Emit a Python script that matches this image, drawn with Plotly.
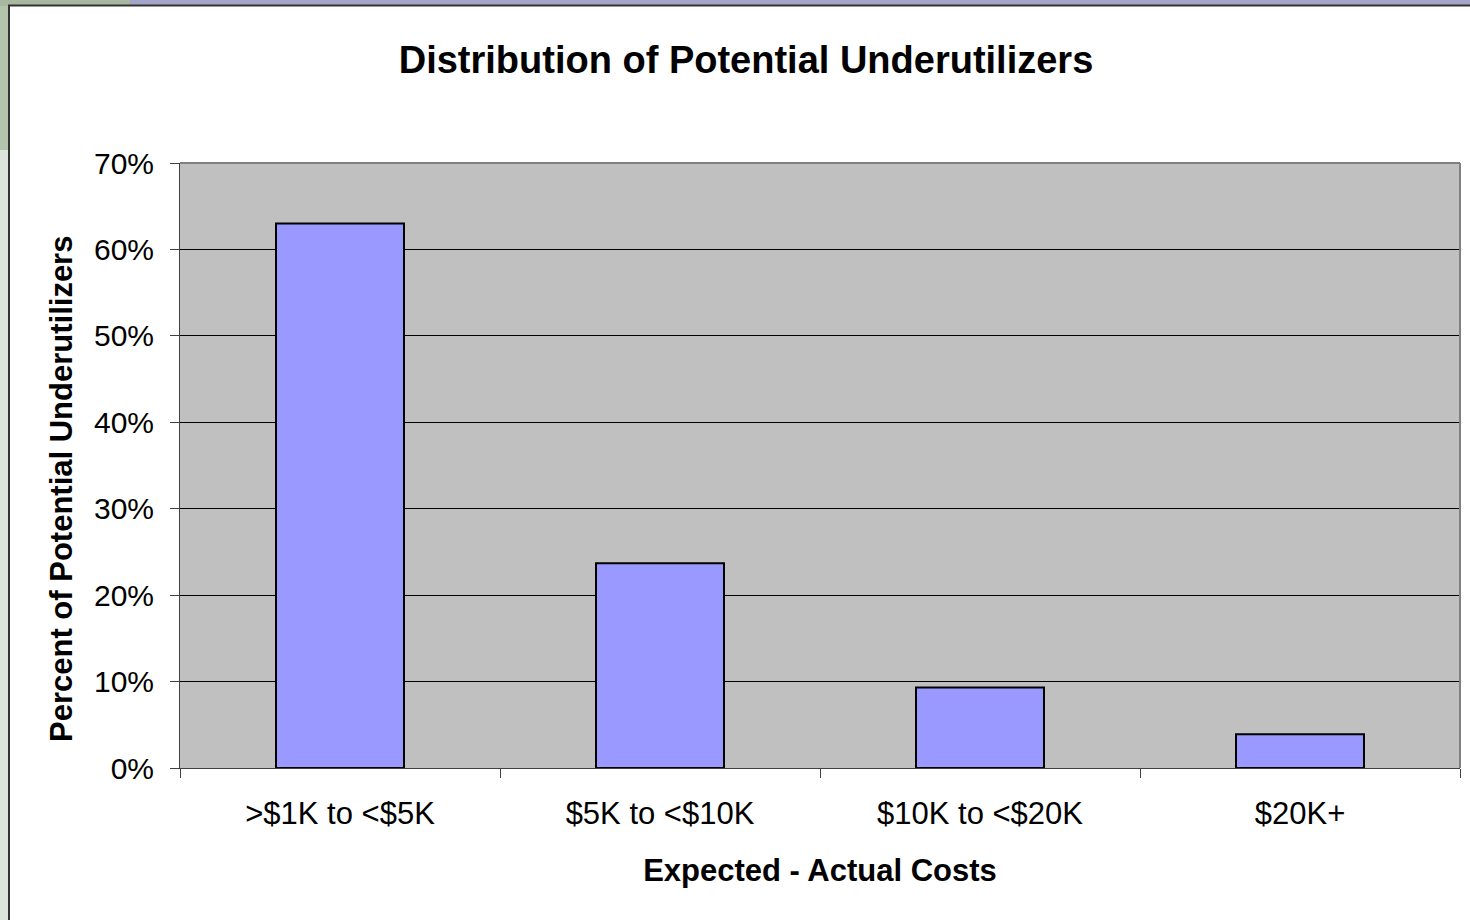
import plotly.graph_objects as go

categories = [">$1K to <$5K", "$5K to <$10K", "$10K to <$20K", "$20K+"]
percents = [63.0, 23.7, 9.3, 3.9]
y_ticks = [0, 10, 20, 30, 40, 50, 60, 70]

W, H = 1470, 920
L, R, T, B = 180, 10, 163, 152
PW, PH = W - L - R, H - T - B


def px(x):
    return (x - L) / PW


def py(y):
    return (H - B - y) / PH


fig = go.Figure()
fig.add_trace(go.Bar(
    x=categories, y=percents,
    marker=dict(color="#9999FF", line=dict(color="#000000", width=2)),
    width=0.4,
    hoverinfo="skip",
))

shapes = [
    # outer decoration strips (slide background)
    dict(type="rect", xref="paper", yref="paper", x0=px(-5), x1=px(9), y0=py(930), y1=py(-5),
         fillcolor="#dde4dc", line=dict(width=0), layer="above"),
    dict(type="rect", xref="paper", yref="paper", x0=px(-5), x1=px(9), y0=py(150), y1=py(-5),
         fillcolor="#b4c4ac", line=dict(width=0), layer="above"),
    dict(type="rect", xref="paper", yref="paper", x0=px(-5), x1=px(1480), y0=py(6), y1=py(-5),
         fillcolor="#a4a4c8", line=dict(width=0), layer="above"),
    dict(type="rect", xref="paper", yref="paper", x0=px(-5), x1=px(130), y0=py(6), y1=py(-5),
         fillcolor="#a8b8a0", line=dict(width=0), layer="above"),
    # frame lines
    dict(type="line", xref="paper", yref="paper", x0=px(9), x1=px(9), y0=py(930), y1=py(5),
         line=dict(color="#333333", width=2), layer="above"),
    dict(type="line", xref="paper", yref="paper", x0=px(8), x1=px(1480), y0=py(5.5), y1=py(5.5),
         line=dict(color="#333333", width=2), layer="above"),
    # plot area border (top / right)
    dict(type="line", xref="paper", yref="paper", x0=0, x1=1, y0=1, y1=1,
         line=dict(color="#808080", width=2), layer="above"),
    dict(type="line", xref="paper", yref="paper", x0=1, x1=1, y0=0, y1=1,
         line=dict(color="#808080", width=2), layer="above"),
]

annotations = [
    dict(text="<b>Percent of Potential Underutilizers</b>", textangle=-90,
         xref="paper", yref="paper", x=px(62), y=py(489),
         xanchor="center", yanchor="middle", showarrow=False,
         font=dict(size=31, color="#000000")),
]

fig.update_layout(
    width=W, height=H,
    margin=dict(l=L, r=R, t=T, b=B),
    paper_bgcolor="#FFFFFF",
    plot_bgcolor="#C0C0C0",
    font=dict(family="Liberation Sans, Arial, sans-serif", color="#000000"),
    showlegend=False,
    bargap=0.6,
    title=dict(
        text="<b>Distribution of Potential Underutilizers</b>",
        font=dict(size=38, color="#000000"),
        x=746 / W, xref="container", xanchor="center",
        y=1 - 60 / H, yref="container", yanchor="middle",
    ),
    xaxis=dict(
        type="category",
        showgrid=False,
        showline=True, linecolor="#404040", linewidth=1,
        ticks="outside", ticklen=9, tickcolor="#404040", tickwidth=1,
        tickson="boundaries",
        tickfont=dict(size=31),
        ticklabelstandoff=18,
        title=dict(text="<b>Expected - Actual Costs</b>", font=dict(size=31), standoff=29),
        range=[-0.5, 3.5],
        fixedrange=True,
    ),
    yaxis=dict(
        range=[0, 70],
        tickvals=y_ticks,
        ticktext=[f"{v}%" for v in y_ticks],
        showgrid=True, gridcolor="#000000", gridwidth=1,
        zeroline=False,
        showline=True, linecolor="#404040", linewidth=1,
        ticks="outside", ticklen=9, tickcolor="#404040", tickwidth=1,
        tickfont=dict(size=30),
        ticklabelstandoff=10,
        fixedrange=True,
    ),
    shapes=shapes,
    annotations=annotations,
)

fig.write_html("out.html")
